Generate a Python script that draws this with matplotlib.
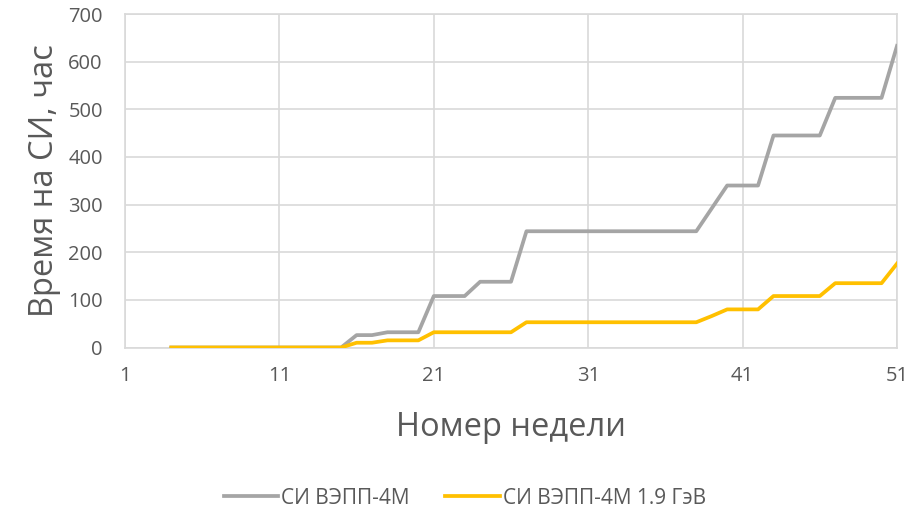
import matplotlib.pyplot as plt
from matplotlib.lines import Line2D

plt.rcParams['font.family'] = ['Open Sans', 'DejaVu Sans']

# Weekly cumulative hours, weeks 4..51
weeks = list(range(4, 52))
si_total = ([0] * 12                       # weeks 4-15
            + [26, 26, 32, 32, 32]         # weeks 16-20
            + [108, 108, 108]              # weeks 21-23
            + [138, 138, 138]              # weeks 24-26
            + [244] * 12                   # weeks 27-38
            + [292, 340, 340, 340]         # weeks 39-42
            + [445] * 4                    # weeks 43-46
            + [524] * 4                    # weeks 47-50
            + [633])                       # week 51
si_19gev = ([0] * 12
            + [10, 10, 15, 15, 15]
            + [32] * 6
            + [53] * 12
            + [66, 80, 80, 80]
            + [108] * 4
            + [135] * 4
            + [176])

x_ticks = [1, 11, 21, 31, 41, 51]
y_ticks = [0, 100, 200, 300, 400, 500, 600, 700]
series_names = ['СИ ВЭПП-4М', 'СИ ВЭПП-4М 1.9 ГэВ']
gray = '#A5A5A5'
yellow = '#FFC000'
text_col = '#595959'
grid_col = '#D9D9D9'

fig = plt.figure(figsize=(9.17, 5.12), dpi=100)
ax = fig.add_axes([125 / 917, 1 - 347.5 / 512, 772 / 917, 333.5 / 512])

ax.plot(weeks, si_total, color=gray, lw=2.7, solid_joinstyle='round', zorder=3)
ax.plot(weeks, si_19gev, color=yellow, lw=2.7, solid_joinstyle='round', zorder=4)

ax.set_xlim(1, 51)
ax.set_ylim(0, 700)
ax.set_xticks(x_ticks)
ax.set_yticks(y_ticks)
ax.grid(True, color=grid_col, lw=1.2)
ax.set_axisbelow(True)
for side in ax.spines.values():
    side.set_color(grid_col)
    side.set_linewidth(1.2)
ax.tick_params(length=0, labelsize=14.5, labelcolor=text_col)
ax.tick_params(axis='y', pad=16)
ax.tick_params(axis='x', pad=13)

ax.set_xlabel('Номер недели', fontsize=23.5, color=text_col, labelpad=18)
ax.set_ylabel('Время на СИ, час', fontsize=23.5, color=text_col, labelpad=5)

handles = [Line2D([], [], color=gray, lw=2.7), Line2D([], [], color=yellow, lw=2.7)]
fig.legend(handles, series_names, loc='center', bbox_to_anchor=(465 / 917, 1 - 498 / 512),
           ncol=2, frameon=False, fontsize=15, handlelength=2.6, handletextpad=0.15,
           columnspacing=1.7, labelcolor=text_col)

fig.savefig('out.png', dpi=100)
